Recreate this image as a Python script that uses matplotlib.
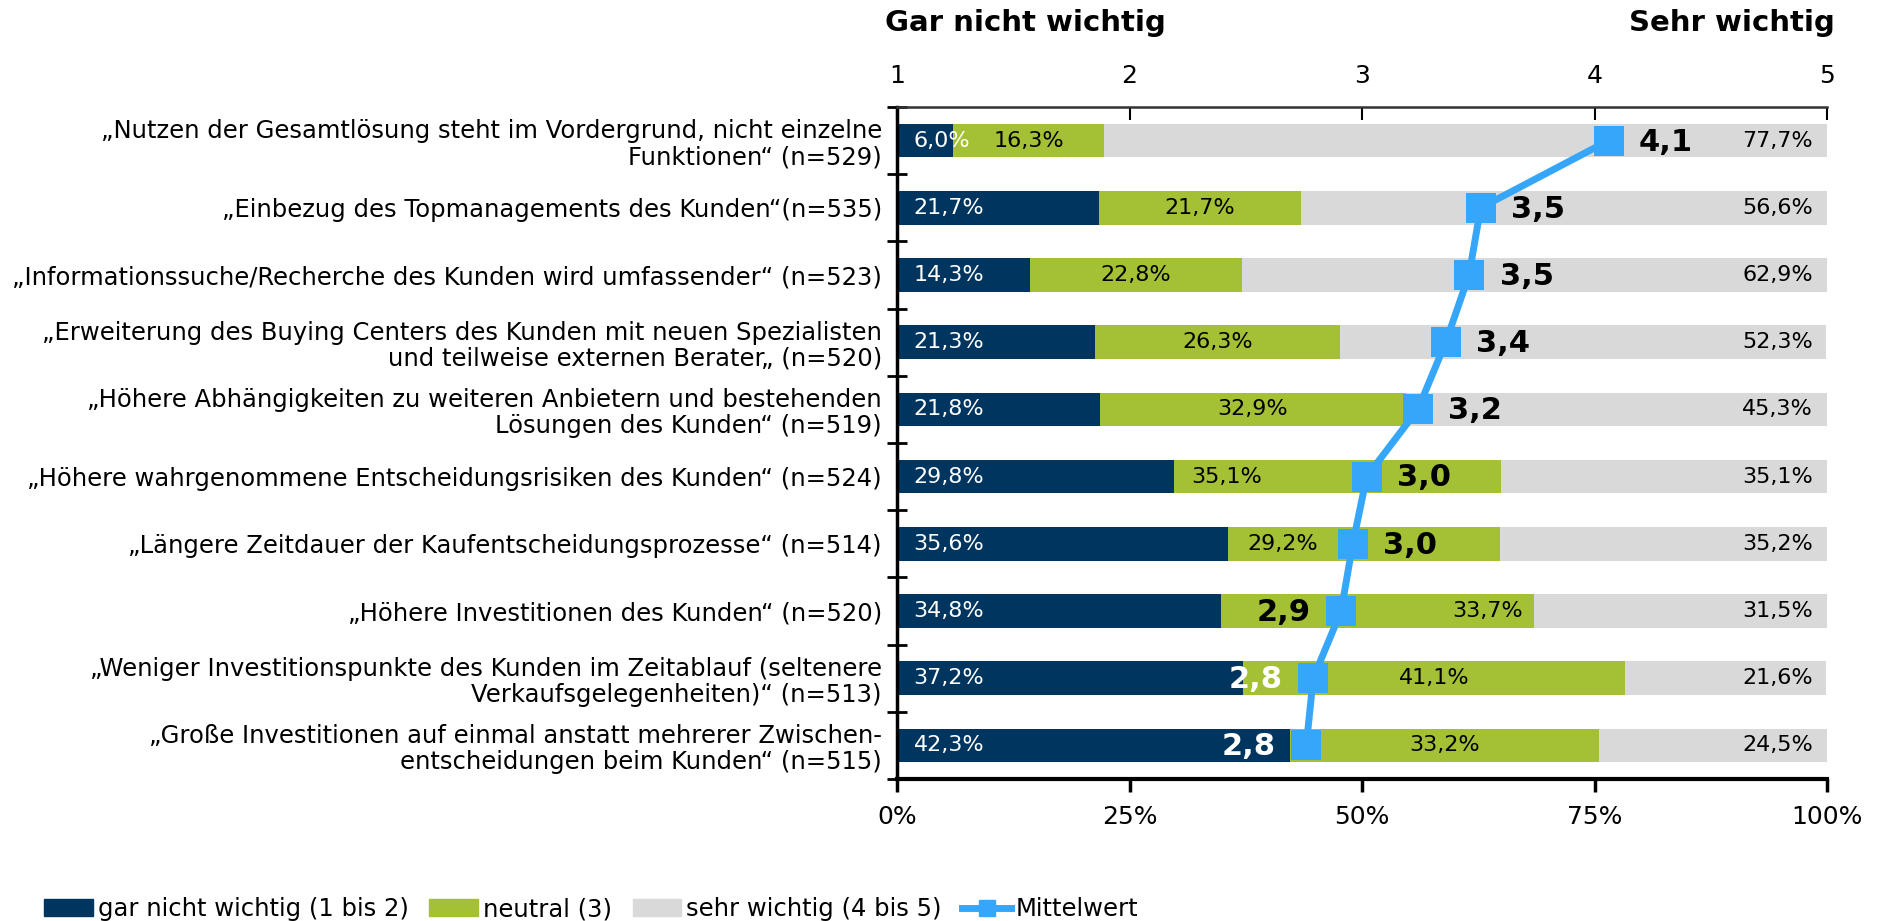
import matplotlib
matplotlib.use("Agg")
import matplotlib.pyplot as plt
from matplotlib.patches import Patch
from matplotlib.lines import Line2D
import numpy as np

plt.rcParams['font.family'] = ['DejaVu Sans']

categories = [
    "„Nutzen der Gesamtlösung steht im Vordergrund, nicht einzelne\nFunktionen“ (n=529)",
    "„Einbezug des Topmanagements des Kunden“(n=535)",
    "„Informationssuche/Recherche des Kunden wird umfassender“ (n=523)",
    "„Erweiterung des Buying Centers des Kunden mit neuen Spezialisten\nund teilweise externen Berater„ (n=520)",
    "„Höhere Abhängigkeiten zu weiteren Anbietern und bestehenden\nLösungen des Kunden“ (n=519)",
    "„Höhere wahrgenommene Entscheidungsrisiken des Kunden“ (n=524)",
    "„Längere Zeitdauer der Kaufentscheidungsprozesse“ (n=514)",
    "„Höhere Investitionen des Kunden“ (n=520)",
    "„Weniger Investitionspunkte des Kunden im Zeitablauf (seltenere\nVerkaufsgelegenheiten)“ (n=513)",
    "„Große Investitionen auf einmal anstatt mehrerer Zwischen-\nentscheidungen beim Kunden“ (n=515)",
]
gar_nicht = [6.0, 21.7, 14.3, 21.3, 21.8, 29.8, 35.6, 34.8, 37.2, 42.3]
neutral = [16.3, 21.7, 22.8, 26.3, 32.9, 35.1, 29.2, 33.7, 41.1, 33.2]
sehr = [77.7, 56.6, 62.9, 52.3, 45.3, 35.1, 35.2, 31.5, 21.6, 24.5]
mittelwert = [4.06, 3.51, 3.46, 3.36, 3.24, 3.02, 2.96, 2.91, 2.79, 2.76]

pct_ticks = [0, 25, 50, 75, 100]
pct_ticklabels = ["0%", "25%", "50%", "75%", "100%"]
scale_ticks = [1, 2, 3, 4, 5]
series_names = ["gar nicht wichtig (1 bis 2)", "neutral (3)", "sehr wichtig (4 bis 5)", "Mittelwert"]

# styling
C_DARK = "#003560"
C_GREEN = "#A4C136"
C_GREY = "#D9D9D9"
C_BLUE = "#36A6FA"
green_label_frac = [0.5, 0.5, 0.5, 0.5, 0.5, 0.16, 0.2, 0.85, 0.5, 0.5]
mean_label_side = ["r", "r", "r", "r", "r", "r", "r", "l", "l", "l"]
mean_label_color = ["black"] * 8 + ["white", "white"]

fig = plt.figure(figsize=(18.83, 9.21), dpi=100)
ax = fig.add_axes([0.4764, 0.1542, 0.4939, 0.7296])

y = np.arange(len(categories))
h = 0.5
low = np.array(gar_nicht)
mid = np.array(neutral)
hi = np.array(sehr)
ax.barh(y, low, height=h, color=C_DARK, zorder=2)
ax.barh(y, mid, left=low, height=h, color=C_GREEN, zorder=2)
ax.barh(y, hi, left=low + mid, height=h, color=C_GREY, zorder=2)

ax.set_xlim(0, 100)
ax.set_ylim(len(categories) - 0.5, -0.5)

pct_fs = 16
for i in range(len(categories)):
    fmt = lambda v: f"{v:.1f}".replace(".", ",") + "%"
    ax.annotate(fmt(low[i]), (0, y[i]), xytext=(12, 0), textcoords="offset points",
                ha="left", va="center", color="white", fontsize=pct_fs, zorder=5)
    gx = low[i] + mid[i] * green_label_frac[i]
    ax.text(gx, y[i], fmt(mid[i]), ha="center", va="center", color="black",
            fontsize=pct_fs, zorder=5)
    ax.annotate(fmt(hi[i]), (100, y[i]), xytext=(-10, 0), textcoords="offset points",
                ha="right", va="center", color="black", fontsize=pct_fs, zorder=5)

# Axes styling
ax.set_xticks(pct_ticks)
ax.set_xticklabels(pct_ticklabels, fontsize=18)
ax.tick_params(axis="x", direction="out", length=9, width=2.5, pad=10, colors="black")
ax.set_yticks(y)
ax.set_yticklabels(categories, fontsize=17.5, linespacing=1.1)
ax.tick_params(axis="y", which="major", length=0, pad=11)
ax.set_yticks(np.arange(-0.5, len(categories) + 0.5, 1), minor=True)
ax.tick_params(axis="y", which="minor", direction="inout", length=14, width=2)
for lab in ax.get_yticklabels():
    lab.set_horizontalalignment("right")
ax.spines["right"].set_visible(False)
ax.spines["left"].set_linewidth(2.5)
ax.spines["bottom"].set_linewidth(3)
ax.spines["top"].set_visible(False)

ax2 = ax.twiny()
ax2.set_xlim(1, 5)
ax2.set_xticks(scale_ticks)
ax2.set_xticklabels([str(t) for t in scale_ticks], fontsize=18)
ax2.tick_params(axis="x", direction="in", length=9, width=1.5, pad=14, colors="black")
ax2.spines["top"].set_color("#333333")
ax2.spines["top"].set_linewidth(1.8)
for s in ["right", "bottom", "left"]:
    ax2.spines[s].set_visible(False)
ax2.set_ylim(ax.get_ylim())

ax2.plot(mittelwert, y, color=C_BLUE, lw=5, marker="s", markersize=21,
         markeredgewidth=0, zorder=6, solid_joinstyle="miter")

for i, m in enumerate(mittelwert):
    txt = f"{m:.1f}".replace(".", ",")
    if mean_label_side[i] == "r":
        ax2.annotate(txt, (m, y[i]), xytext=(22, -1), textcoords="offset points",
                     ha="left", va="center", fontsize=22, fontweight="bold",
                     color=mean_label_color[i], zorder=7)
    else:
        ax2.annotate(txt, (m, y[i]), xytext=(-22, -1), textcoords="offset points",
                     ha="right", va="center", fontsize=22, fontweight="bold",
                     color=mean_label_color[i], zorder=7)

fig.text(0.470, 0.975, "Gar nicht wichtig", ha="left", va="center",
         fontsize=21, fontweight="bold")
fig.text(0.9745, 0.975, "Sehr wichtig", ha="right", va="center",
         fontsize=21, fontweight="bold")

handles = [Patch(color=C_DARK), Patch(color=C_GREEN), Patch(color=C_GREY),
           Line2D([], [], color=C_BLUE, lw=5, marker="s", markersize=12)]
leg = fig.legend(handles, series_names, loc="center left", bbox_to_anchor=(0.0236, 0.013),
                 ncol=4, frameon=False, fontsize=17.5, handlelength=2.0, handleheight=0.65,
                 handletextpad=0.2, columnspacing=0.85, borderpad=0, borderaxespad=0)

fig.savefig("out.png", dpi=100)
